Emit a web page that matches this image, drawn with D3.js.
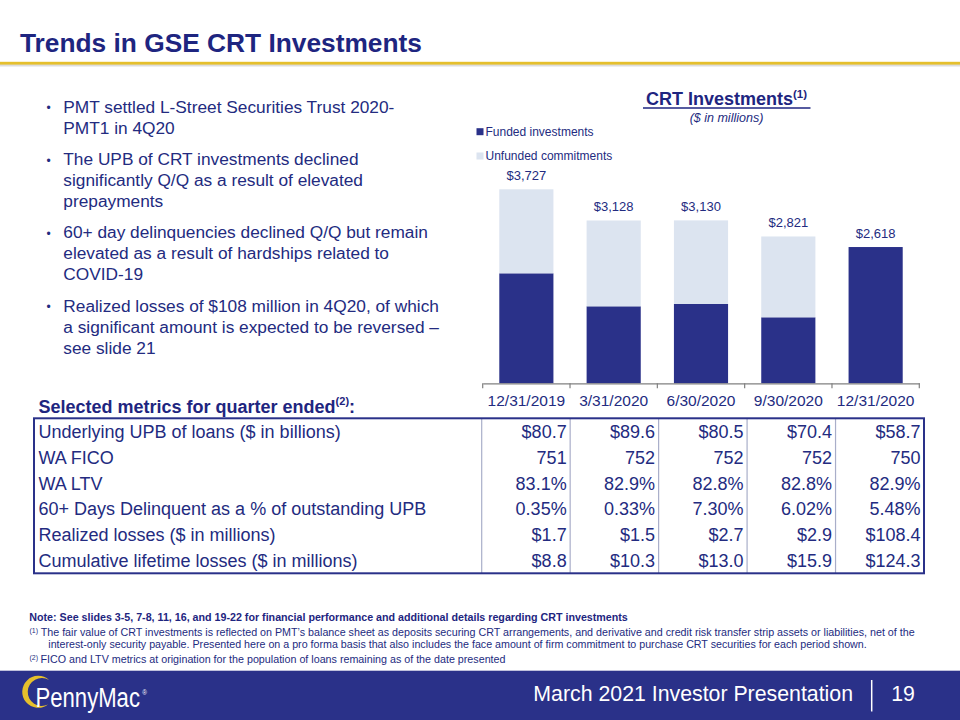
<!DOCTYPE html>
<html>
<head>
<meta charset="utf-8">
<script src="https://cdn.jsdelivr.net/npm/d3@7"></script>
<style>
html,body{margin:0;padding:0;background:#fff;}
svg{display:block;font-family:"Liberation Sans",Arial,sans-serif;}
</style>
</head>
<body>
<svg id="c" width="960" height="720"></svg>
<script>
// ---------- data ----------
const quarters = ["12/31/2019","3/31/2020","6/30/2020","9/30/2020","12/31/2020"];
const funded   = [2113, 1479, 1524, 1268, 2618];
const unfunded = [1614, 1649, 1606, 1553, 0];
const seriesNames = ["Funded investments","Unfunded commitments"];

const metricLabels = [
  "Underlying UPB of loans ($ in billions)",
  "WA FICO",
  "WA LTV",
  "60+ Days Delinquent as a % of outstanding UPB",
  "Realized losses ($ in millions)",
  "Cumulative lifetime losses ($ in millions)"
];
const upb        = [80.7, 89.6, 80.5, 70.4, 58.7];
const fico       = [751, 752, 752, 752, 750];
const ltv        = [83.1, 82.9, 82.8, 82.8, 82.9];
const delinquent = [0.35, 0.33, 7.30, 6.02, 5.48];
const realized   = [1.7, 1.5, 2.7, 2.9, 108.4];
const cumulative = [8.8, 10.3, 13.0, 15.9, 124.3];

const bullets = [
  ["PMT settled L-Street Securities Trust 2020-","PMT1 in 4Q20"],
  ["The UPB of CRT investments declined","significantly Q/Q as a result of elevated","prepayments"],
  ["60+ day delinquencies declined Q/Q but remain","elevated as a result of hardships related to","COVID-19"],
  ["Realized losses of $108 million in 4Q20, of which","a significant amount is expected to be reversed –","see slide 21"]
];

// ---------- styles ----------
const NAVY = "#2a3189", TXT = "#232b80", LIGHT = "#dce4f0", GOLD = "#e5bf2c";
const svg = d3.select("#c");

// ---------- header ----------
svg.append("text").attr("x", 20).attr("y", 51.5)
  .attr("font-size", 26.3).attr("font-weight", "bold").attr("fill", "#1e2580")
  .text("Trends in GSE CRT Investments");
svg.append("rect").attr("x", 0).attr("y", 64).attr("width", 960).attr("height", 2.5).attr("fill", "#cfcfcf").attr("opacity", 0.7);
svg.append("rect").attr("x", 0).attr("y", 61.8).attr("width", 960).attr("height", 2.8).attr("fill", GOLD);

// ---------- bullets ----------
const bStarts = [106.7, 159, 232.3, 305.7];
bullets.forEach((lines, i) => {
  svg.append("text").attr("x", 46.5).attr("y", bStarts[i] + 5.5).attr("font-size", 12).attr("fill", TXT).text("•");
  lines.forEach((ln, j) => {
    svg.append("text").attr("x", 63.3).attr("y", bStarts[i] + j * 21 + 6)
      .attr("font-size", 17.3).attr("fill", TXT).text(ln);
  });
});

// ---------- chart ----------
const x = d3.scaleBand().domain(quarters).range([482.7, 919.3]).paddingInner(0.38).paddingOuter(0.19);
const y = d3.scaleLinear().domain([0, 4000]).range([383.3, 175.1]);

const stackData = quarters.map((q, i) => ({q, funded: funded[i], unfunded: unfunded[i]}));
const stack = d3.stack().keys(["funded","unfunded"])(stackData);
const colors = {funded: NAVY, unfunded: LIGHT};

svg.append("g").selectAll("g").data(stack).join("g")
  .attr("fill", d => colors[d.key])
  .selectAll("rect").data(d => d).join("rect")
  .attr("x", d => x(d.data.q))
  .attr("width", x.bandwidth())
  .attr("y", d => y(d[1]))
  .attr("height", d => y(d[0]) - y(d[1]));

// total labels
svg.append("g").selectAll("text").data(stackData).join("text")
  .attr("x", d => x(d.q) + x.bandwidth() / 2)
  .attr("y", d => y(d.funded + d.unfunded) - 9)
  .attr("text-anchor", "middle").attr("font-size", 13).attr("fill", TXT)
  .text(d => d3.format("$,")(d.funded + d.unfunded));

// axis
const axis = d3.axisBottom(x).tickSize(0).tickPadding(12);
const ag = svg.append("g").attr("transform", `translate(0,${y(0)})`).call(axis);
ag.select(".domain").attr("stroke", "#808080").attr("stroke-width", 1.2);
ag.selectAll(".tick text").attr("font-size", 15.5).attr("fill", TXT)
  .attr("font-family", "'Liberation Sans',Arial,sans-serif");
// boundary ticks
const bounds = d3.range(quarters.length + 1).map(i => x.range()[0] + i * x.step());
ag.selectAll("line.bt").data(bounds).join("line").attr("class", "bt")
  .attr("x1", d => d).attr("x2", d => d).attr("y1", 0).attr("y2", 5)
  .attr("stroke", "#808080").attr("stroke-width", 1.2);

// chart title
const ct = svg.append("text").attr("x", 726.5).attr("y", 104.5).attr("text-anchor", "middle")
  .attr("fill", "#1e2580").attr("font-weight", "bold").attr("font-size", 18);
ct.append("tspan").text("CRT Investments");
ct.append("tspan").attr("font-size", 11.5).attr("dy", -7).text("(1)");
svg.append("line").attr("x1", 643).attr("x2", 810.5).attr("y1", 108).attr("y2", 108)
  .attr("stroke", "#1e2580").attr("stroke-width", 1.6);
svg.append("text").attr("x", 726.5).attr("y", 122).attr("text-anchor", "middle")
  .attr("font-size", 12.5).attr("font-style", "italic").attr("fill", TXT).text("($ in millions)");

// legend
const lg = svg.append("g").selectAll("g").data(seriesNames).join("g")
  .attr("transform", (d, i) => `translate(476.5,${131.7 + i * 24.3})`);
lg.append("rect").attr("x", 0).attr("y", -3.5).attr("width", 7).attr("height", 7)
  .attr("fill", (d, i) => i === 0 ? NAVY : LIGHT);
lg.append("text").attr("x", 9).attr("y", 4.2).attr("font-size", 12).attr("fill", TXT).text(d => d);

// ---------- table ----------
const rows = [
  upb.map(v => "$" + d3.format(".1f")(v)),
  fico.map(v => d3.format("d")(v)),
  ltv.map(v => d3.format(".1f")(v) + "%"),
  delinquent.map(v => d3.format(".2f")(v) + "%"),
  realized.map(v => "$" + d3.format(".1f")(v)),
  cumulative.map(v => "$" + d3.format(".1f")(v))
];
const tLeft = 34, tRight = 924, tTop = 418.3, tBottom = 573.3;
const tx = d3.scaleBand().domain(quarters).range([481.7, tRight]);
const ry = d3.scaleBand().domain(d3.range(metricLabels.length)).range([tTop + 0.5, tBottom - 0.5]);

const hdr = svg.append("text").attr("x", 38.5).attr("y", 413).attr("font-size", 18)
  .attr("font-weight", "bold").attr("fill", "#1e2580");
hdr.append("tspan").text("Selected metrics for quarter ended");
hdr.append("tspan").attr("font-size", 11).attr("dy", -8).text("(2)");
hdr.append("tspan").attr("dy", 8).text(":");

// vertical separators
svg.append("g").selectAll("line").data(quarters).join("line")
  .attr("x1", d => tx(d)).attr("x2", d => tx(d))
  .attr("y1", tTop).attr("y2", tBottom)
  .attr("stroke", "#a9aec9").attr("stroke-width", 1.2);
svg.append("rect").attr("x", tLeft).attr("y", tTop).attr("width", tRight - tLeft).attr("height", tBottom - tTop)
  .attr("fill", "none").attr("stroke", NAVY).attr("stroke-width", 2);

// labels
svg.append("g").selectAll("text").data(metricLabels).join("text")
  .attr("x", 38.5).attr("y", (d, i) => ry(i) + ry.bandwidth() / 2 + 6.6)
  .attr("font-size", 18).attr("fill", TXT).text(d => d);
// values
rows.forEach((r, i) => {
  svg.append("g").selectAll("text").data(r).join("text")
    .attr("x", (d, j) => tx(quarters[j]) + tx.bandwidth() - 3.5)
    .attr("y", ry(i) + ry.bandwidth() / 2 + 6.6)
    .attr("text-anchor", "end").attr("font-size", 18).attr("fill", TXT).text(d => d);
});

// ---------- footnotes ----------
const FN = 10.3;
svg.append("text").attr("x", 29.3).attr("y", 621).attr("font-size", FN).attr("font-weight", "bold")
  .attr("fill", "#1e2580").attr("textLength", 598.5).attr("lengthAdjust", "spacingAndGlyphs")
  .text("Note: See slides 3-5, 7-8, 11, 16, and 19-22 for financial performance and additional details regarding CRT investments");
svg.append("text").attr("x", 29.5).attr("y", 633).attr("font-size", 7).attr("fill", TXT).text("(1)");
svg.append("text").attr("x", 40.7).attr("y", 636).attr("font-size", FN).attr("fill", TXT)
  .attr("textLength", 874).attr("lengthAdjust", "spacingAndGlyphs")
  .text("The fair value of CRT investments is reflected on PMT’s balance sheet as deposits securing CRT arrangements, and derivative and credit risk transfer strip assets or liabilities, net of the");
svg.append("text").attr("x", 48.3).attr("y", 648).attr("font-size", FN).attr("fill", TXT)
  .attr("textLength", 818.4).attr("lengthAdjust", "spacingAndGlyphs")
  .text("interest-only security payable.  Presented here on a pro forma basis that also includes the face amount of firm commitment to purchase CRT securities for each period shown.");
svg.append("text").attr("x", 29.5).attr("y", 659.5).attr("font-size", 7).attr("fill", TXT).text("(2)");
svg.append("text").attr("x", 40.5).attr("y", 662.5).attr("font-size", FN).attr("fill", TXT)
  .attr("textLength", 465).attr("lengthAdjust", "spacingAndGlyphs")
  .text("FICO and LTV metrics at origination for the population of loans remaining as of the date presented");

// ---------- footer ----------
svg.append("rect").attr("x", 0).attr("y", 670.7).attr("width", 960).attr("height", 50).attr("fill", NAVY);
svg.append("text").attr("x", 853).attr("y", 700.5).attr("text-anchor", "end").attr("font-size", 21.3)
  .attr("fill", "#fff").text("March 2021 Investor Presentation");
svg.append("line").attr("x1", 871.7).attr("x2", 871.7).attr("y1", 680).attr("y2", 711.5)
  .attr("stroke", "#fff").attr("stroke-width", 1.5);
svg.append("text").attr("x", 903).attr("y", 700.5).attr("text-anchor", "middle").attr("font-size", 21.3)
  .attr("fill", "#fff").text("19");
// logo
svg.append("path")
  .attr("d", "M 49 680 A 16 16 0 1 0 48 704.5 A 14 14 0 1 1 49 680 Z")
  .attr("fill", GOLD);
const logo = svg.append("text").attr("transform", "translate(35.5,707) scale(0.79,1)")
  .attr("font-size", 28).attr("fill", "#fff");
logo.append("tspan").text("PennyMac");
logo.append("tspan").attr("font-size", 8).attr("dx", 3).attr("dy", -12).text("®");
</script>
</body>
</html>
